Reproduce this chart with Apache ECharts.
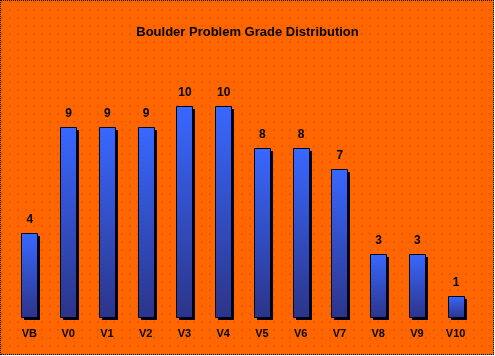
<!DOCTYPE html>
<html><head><meta charset="utf-8">
<script src="https://cdn.jsdelivr.net/npm/echarts@6/dist/echarts.min.js"></script>
<style>
html,body{margin:0;padding:0;background:#fff;}
#frame{position:absolute;left:0;top:0;width:494px;height:355px;box-sizing:border-box;border:1px dotted #000;
background-color:#FF6600;
background-image:radial-gradient(circle at 1px 1px, rgba(200,60,0,0.7) 0.5px, transparent 0.9px);
background-size:8px 8px;}
#chart{position:absolute;left:0;top:0;width:495px;height:356px;}
</style></head>
<body>
<div id="frame"></div>
<div id="chart"></div>
<script>
const categories = ['VB','V0','V1','V2','V3','V4','V5','V6','V7','V8','V9','V10'];
const counts = [4,9,9,9,10,10,8,8,7,3,3,1];
const titleText = 'Boulder Problem Grade Distribution';

const font = 'Liberation Sans, Arial';
const chart = echarts.init(document.getElementById('chart'), null, {renderer:'canvas'});
const barW = 16;
chart.setOption({
  animation:false,
  title:{text:titleText,left:'center',top:21,textStyle:{fontFamily:font,fontSize:13,fontWeight:'bold',color:'#000'}},
  grid:{left:10,right:20,top:106,height:211,containLabel:false},
  xAxis:{type:'category',data:categories,axisLine:{show:false},axisTick:{show:false},
    axisLabel:{margin:11,fontFamily:font,fontSize:11,fontWeight:'bold',color:'#000'}},
  yAxis:{type:'value',min:0,max:10,show:false,splitLine:{show:false}},
  series:[{type:'custom',data:counts.map((v,i)=>[i,v]),
    encode:{x:0,y:1},
    renderItem:function(params,api){
      const top = api.coord([api.value(0), api.value(1)]);
      const base = api.coord([api.value(0), 0]);
      const x = Math.round(top[0]-barW/2), y = Math.round(top[1]), h = Math.round(base[1])-y;
      return {type:'group',children:[
        {type:'rect',shape:{x:x+3,y:y+3,width:barW,height:h},style:{fill:'#000'}},
        {type:'rect',shape:{x:x+0.5,y:y+0.5,width:barW,height:h},
          style:{fill:new echarts.graphic.LinearGradient(0,0,0,1,[{offset:0,color:'#3868FF'},{offset:1,color:'#2C3488'}]),stroke:'#000022',lineWidth:1}},
        {type:'text',style:{text:String(api.value(1)),x:top[0]+0.5,y:y-7,align:'center',verticalAlign:'bottom',
          font:'bold 12px '+font,fill:'#000'}}
      ]};
    }
  }]
});
</script>
</body></html>
